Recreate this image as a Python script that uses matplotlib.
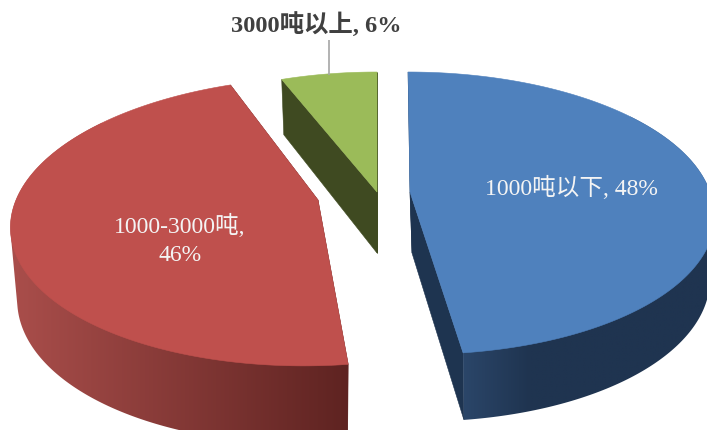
import numpy as np
import matplotlib
matplotlib.use("Agg")
import matplotlib.pyplot as plt
from matplotlib.patches import Polygon
from matplotlib.colors import to_rgb

# --- data ---
categories = ["1000吨以下", "1000-3000吨", "3000吨以上"]
shares = [48, 46, 6]

# --- styling / layout of each slice (pixel space of the 707x430 picture) ---
top_colors = ["#4f81bd", "#bf504d", "#9bbb59"]
side_from = ["#2b4669", "#a84d4a", "#3f4a21"]
side_to = ["#1f3450", "#5e2321", "#3f4a21"]
side_span = [(463, 530), (20, 350), (280, 380)]
wall_colors = ["#1e3450", "#5e2321", "#3f4a21"]
apex_x = [410, 318, 377]
apex_y = [192, 200, 192]
radius_x = [300, 302, 295]
radius_y = [138, 141, 138]
skew_front = [0.17, -0.27, 0.0]
skew_back = [0.05, -0.27, 0.0]
lower_shift = [2, 0, 0]
depths = [61, 71, 61]
label_xy = [(571, 188), (180, 240), (316, 24)]
label_text = [f"{categories[0]}, {shares[0]}%",
              f"{categories[1]},\n{shares[1]}%",
              f"{categories[2]}, {shares[2]}%"]
PERSP = 0.15
SHRINK = 0.978

plt.rcParams["font.family"] = ["Liberation Serif", "Noto Sans CJK SC"]
fig = plt.figure(figsize=(7.07, 4.30), dpi=100)
ax = fig.add_axes([0, 0, 1, 1])
ax.axis("off")


def project(i, t):
    t = np.asarray(t, dtype=float)
    u, v = np.sin(t), np.cos(t)
    s = 1 / (1 + PERSP * v)
    ox = np.where(v < 0, skew_front[i], skew_back[i])
    x = apex_x[i] + radius_x[i] * (u * s + ox * (s - 1))
    y = apex_y[i] - radius_y[i] * v * s
    return x, y


def lower(i, x, y, v):
    anchor = apex_x[i] + lower_shift[i]
    xl = anchor + (x - apex_x[i]) * SHRINK
    yl = y + depths[i] * (1 - 0.1 * v)
    return xl, yl


def hull(points):
    pts = sorted(map(tuple, points))

    def half(seq):
        out = []
        for p in seq:
            while len(out) > 1 and ((out[-1][0] - out[-2][0]) * (p[1] - out[-2][1])
                                    - (out[-1][1] - out[-2][1]) * (p[0] - out[-2][0])) <= 0:
                out.pop()
            out.append(p)
        return out[:-1]

    return np.array(half(pts) + half(pts[::-1]))


edges = np.concatenate([[0], np.cumsum(shares)]) / sum(shares) * 2 * np.pi

for i in range(len(shares)):
    t0, t1 = edges[i], edges[i + 1]
    c0, c1 = np.array(to_rgb(side_from[i])), np.array(to_rgb(side_to[i]))

    # cut walls
    for t in (t0, t1):
        rx, ry = project(i, t)
        lx, ly = lower(i, rx, ry, np.cos(t))
        ax_l = apex_x[i] + lower_shift[i]
        ay_l = apex_y[i] + depths[i]
        ax.add_patch(Polygon([(apex_x[i], apex_y[i]), (rx, ry), (lx, ly), (ax_l, ay_l)],
                             closed=True, fc=wall_colors[i], ec=wall_colors[i], lw=0.4, zorder=2))

    # outer side, shaded left to right with a clipped gradient
    ts = np.linspace(t0, t1, 240)
    xs, ys = project(i, ts)
    xl, yl = lower(i, xs, ys, np.cos(ts))
    if i < 2:
        keep = np.cos(ts) <= 0.6
        band = hull(np.vstack([np.column_stack([xs[keep], ys[keep]]),
                               np.column_stack([xl[keep], yl[keep]])]))
        clip = Polygon(band, closed=True, fc="none", ec="none", transform=ax.transData)
        ax.add_patch(clip)
        gx = np.linspace(band[:, 0].min(), band[:, 0].max(), 512)
        f = np.clip((gx - side_span[i][0]) / (side_span[i][1] - side_span[i][0]), 0, 1)[:, None]
        img = (c0 + (c1 - c0) * f)[None, :, :]
        im = ax.imshow(img, extent=(gx[0], gx[-1], band[:, 1].max(), band[:, 1].min()),
                       aspect="auto", zorder=3, interpolation="bilinear")
        im.set_clip_path(clip)

    # top face
    pts = [(apex_x[i], apex_y[i])] + list(zip(xs, ys))
    ax.add_patch(Polygon(pts, closed=True, fc=top_colors[i], ec=top_colors[i], lw=0.4, zorder=4))

# labels
ax.text(*label_xy[0], label_text[0], color="#f4f4f4", fontsize=17, ha="center", va="center", zorder=6)
ax.text(*label_xy[1], label_text[1], color="#f4f4f4", fontsize=17, ha="center", va="center",
        linespacing=1.45, zorder=6)
ax.text(*label_xy[2], label_text[2], color="#404040", fontsize=17.6, fontweight="bold",
        ha="center", va="center", zorder=6)

# leader line of the outside label
ax.plot([329, 329], [40, 75], color="#a6a6a6", lw=1.2, zorder=5, solid_capstyle="butt")

ax.set_xlim(0, 707)
ax.set_ylim(430, 0)
fig.savefig("out.png", dpi=100, facecolor="white")
